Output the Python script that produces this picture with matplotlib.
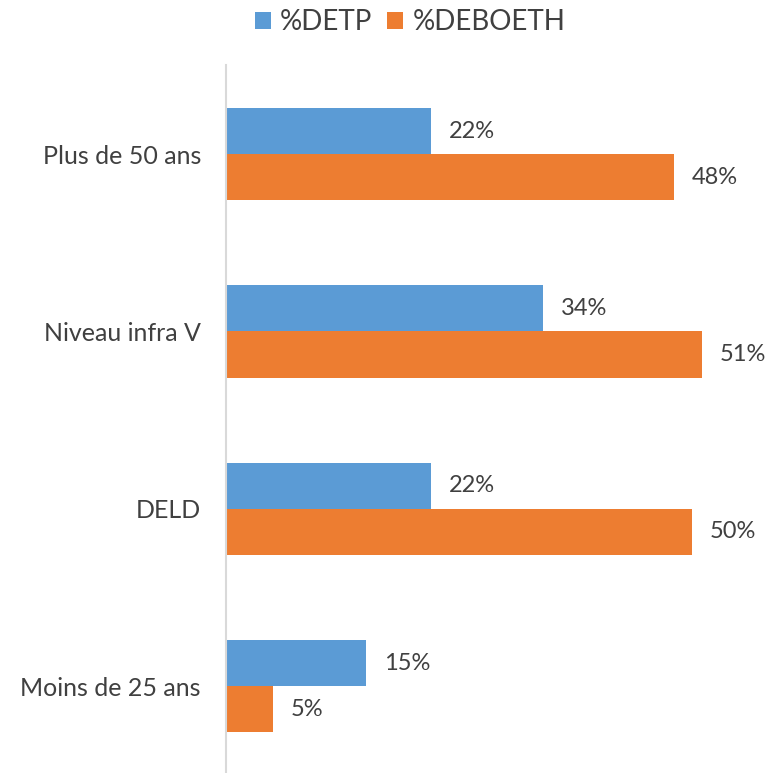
import matplotlib.pyplot as plt

categories = ["Moins de 25 ans", "DELD", "Niveau infra V", "Plus de 50 ans"]
detp = [15, 22, 34, 22]
deboeth = [5, 50, 51, 48]
series_names = ["%DETP", "%DEBOETH"]

blue = "#5B9BD5"
orange = "#ED7D31"
text_col = "#404040"

plt.rcParams["font.family"] = ["Lato", "DejaVu Sans"]

fig = plt.figure(figsize=(7.67, 7.73), dpi=100)
ax = fig.add_axes([226 / 767, 0.0, 1 - 226 / 767, 1 - 65 / 773])

h = 0.26
y = range(len(categories))
b1 = ax.barh([i + h / 2 for i in y], detp, height=h, color=blue, label=series_names[0])
b2 = ax.barh([i - h / 2 for i in y], deboeth, height=h, color=orange, label=series_names[1])

for bars, vals in ((b1, detp), (b2, deboeth)):
    for bar, v in zip(bars, vals):
        ax.text(v + 1.9, bar.get_y() + bar.get_height() / 2, f"{v}%",
                va="center", ha="left", fontsize=17, color=text_col)

ax.set_xlim(0, 58.0)
ax.set_ylim(-0.49, 3.503)
ax.set_yticks(list(y))
ax.set_yticklabels(categories, fontsize=18, color=text_col)
ax.tick_params(axis="y", length=0, pad=18)
ax.set_xticks([])
for s in ("top", "right", "bottom"):
    ax.spines[s].set_visible(False)
ax.spines["left"].set_color("#D9D9D9")
ax.spines["left"].set_linewidth(1.5)

fig.legend(handles=[b1, b2], labels=series_names, loc="center",
           bbox_to_anchor=(410 / 767, 1 - 22 / 773), ncol=2, frameon=False,
           fontsize=20, handlelength=0.58, handleheight=0.58, handletextpad=0.32,
           columnspacing=0.55, labelcolor=text_col)

fig.savefig("out.png", dpi=100)
